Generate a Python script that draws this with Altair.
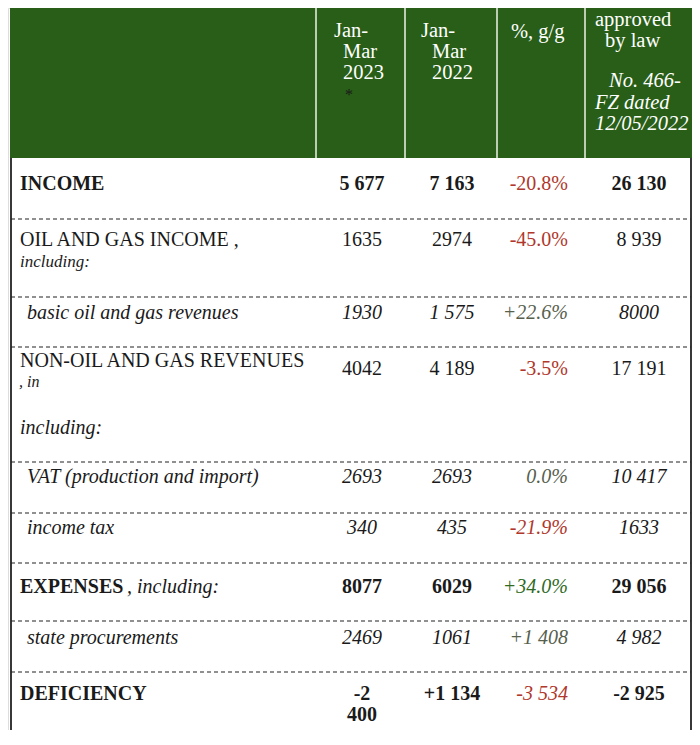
import altair as alt
import pandas as pd

# ---------------- data ----------------
row_labels = ["INCOME", "OIL AND GAS INCOME ,", "basic oil and gas revenues",
              "NON-OIL AND GAS REVENUES", "VAT (production and import)", "income tax",
              "EXPENSES", "state procurements", "DEFICIENCY"]
row_notes = ["", "including:", "", ", in|including:", "", "", ", including:", "", ""]
col_2023 = ["5 677", "1635", "1930", "4042", "2693", "340", "8077", "2469", "-2\n400"]
col_2022 = ["7 163", "2974", "1 575", "4 189", "2693", "435", "6029", "1061", "+1 134"]
col_pct = ["-20.8%", "-45.0%", "+22.6%", "-3.5%", "0.0%", "-21.9%", "+34.0%", "+1 408", "-3 534"]
col_law = ["26 130", "8 939", "8000", "17 191", "10 417", "1633", "29 056", "4 982", "-2 925"]
row_kind = ["bold", "normal", "italic", "normal", "italic", "italic", "bold", "italic", "bold"]
pct_kind = ["neg", "neg", "pos", "neg", "zero", "neg", "up", "pos", "neg"]
pct_style = ["normal", "normal", "italic", "normal", "italic", "italic", "italic", "italic", "italic"]

header_cols = [["Jan-", "Mar", "2023", "*"], ["Jan-", "Mar", "2022"], ["%, g/g"],
               ["approved", "by law", "No. 466-", "FZ dated", "12/05/2022"]]

# ---------------- layout / style ----------------
W, H = 684, 722
X0, Y0 = 8, 8
FONT = "'Liberation Serif', 'Times New Roman', serif"
GREEN = "#285e17"
RED = "#b0372b"
pct_colors = {"neg": RED, "pos": "#56604d", "zero": "#56604d", "up": "#2f6a1f"}

FS = 20
row_base = [190, 246, 319, 367, 483, 534, 593, 644, 700]
val_base = [190, 246, 319, 375, 483, 534, 593, 644, 700]
sep_y = [219, 297, 347, 462, 513, 563, 621, 672]
divider_x = [316, 405, 497, 585]
left_x, right_x = 11, 691

header_pos = [
    [(334, 37), (343, 58), (343, 79), (345, 100)],
    [(421, 37), (432, 58), (432, 79)],
    [(511, 38)],
    [(595, 26), (605, 47), (609, 87), (595, 109), (595, 130)],
]

items = []


def add(text, x, y, size=FS, weight="normal", style="normal", color="#1a1a1a", align="left"):
    items.append(dict(text=text, x=x, y=y, size=size, weight=weight, style=style,
                      color=color, align=align))


# header texts
for ci, lines in enumerate(header_cols):
    for li, t in enumerate(lines):
        px, py = header_pos[ci][li]
        style = "italic" if (ci == 3 and li >= 2) else "normal"
        color = "#1a1a1a" if t == "*" else "white"
        add(t, px, py, size=16 if t == "*" else 20.5, style=style, color=color)

# body
for i, lab in enumerate(row_labels):
    kind = row_kind[i]
    weight = "bold" if kind == "bold" else "normal"
    style = "italic" if kind == "italic" else "normal"
    lx = 27 if kind == "italic" else 20
    add(lab, lx, row_base[i], weight=weight, style=style)
    note = row_notes[i]
    if note == "including:":
        add(note, 20, row_base[i] + 21, size=17, style="italic")
    elif note.startswith(", in|"):
        add(", in", 19, row_base[i] + 20, size=16, style="italic")
        add("including:", 20, row_base[i] + 67, size=FS, style="italic")
    elif note:
        add(note, 127, row_base[i], size=FS, style="italic")
    add(col_2023[i], 362, val_base[i], weight=weight, style=style, align="center")
    add(col_2022[i], 452, val_base[i], weight=weight, style=style, align="center")
    add(col_pct[i], 568, val_base[i], style=pct_style[i], color=pct_colors[pct_kind[i]],
        align="right")
    add(col_law[i], 639, val_base[i], weight=weight, style=style, align="center")

texts = pd.DataFrame(items)

xs = alt.Scale(domain=[X0, X0 + W], nice=False, zero=False)
ys = alt.Scale(domain=[Y0, Y0 + H], nice=False, zero=False, reverse=True)

# header band
header = alt.Chart(pd.DataFrame([{"x": 10, "x2": 692, "y": Y0, "y2": 158}])).mark_rect(
    color=GREEN).encode(
    x=alt.X("x:Q", scale=xs, axis=None), x2="x2:Q",
    y=alt.Y("y:Q", scale=ys, axis=None), y2="y2:Q")

dividers = alt.Chart(pd.DataFrame({"x": divider_x, "y": Y0, "y2": 158})).mark_rule(
    color="#eef3e8", strokeWidth=1.5).encode(
    x=alt.X("x:Q", scale=xs, axis=None),
    y=alt.Y("y:Q", scale=ys, axis=None), y2="y2:Q")

borders = alt.Chart(pd.DataFrame({"x": [left_x, right_x], "y": 158, "y2": Y0 + H})).mark_rule(
    color="#222222", strokeWidth=1.8).encode(
    x=alt.X("x:Q", scale=xs, axis=None),
    y=alt.Y("y:Q", scale=ys, axis=None), y2="y2:Q")

seps = alt.Chart(pd.DataFrame({"y": sep_y, "x": left_x, "x2": right_x})).mark_rule(
    color="#222222", strokeWidth=1.2, strokeDash=[4, 3]).encode(
    x=alt.X("x:Q", scale=xs, axis=None), x2="x2:Q",
    y=alt.Y("y:Q", scale=ys, axis=None))

layers = [header, dividers, borders, seps]
for (align, weight, style), sub in texts.groupby(["align", "weight", "style"]):
    layers.append(
        alt.Chart(sub.reset_index(drop=True)).mark_text(
            font=FONT, align=align, baseline="alphabetic", fontWeight=weight,
            fontStyle=style, lineBreak="\n", lineHeight=21).encode(
            x=alt.X("x:Q", scale=xs, axis=None),
            y=alt.Y("y:Q", scale=ys, axis=None),
            text="text:N",
            color=alt.Color("color:N", scale=None),
            size=alt.Size("size:Q", scale=None))
    )

chart = alt.layer(*layers).properties(
    width=W, height=H, padding=0,
    autosize=alt.AutoSizeParams(type="none"),
).configure_view(stroke=None).configure(background="white")

chart.save("out.html", embed_options={"renderer": "svg", "actions": False})
